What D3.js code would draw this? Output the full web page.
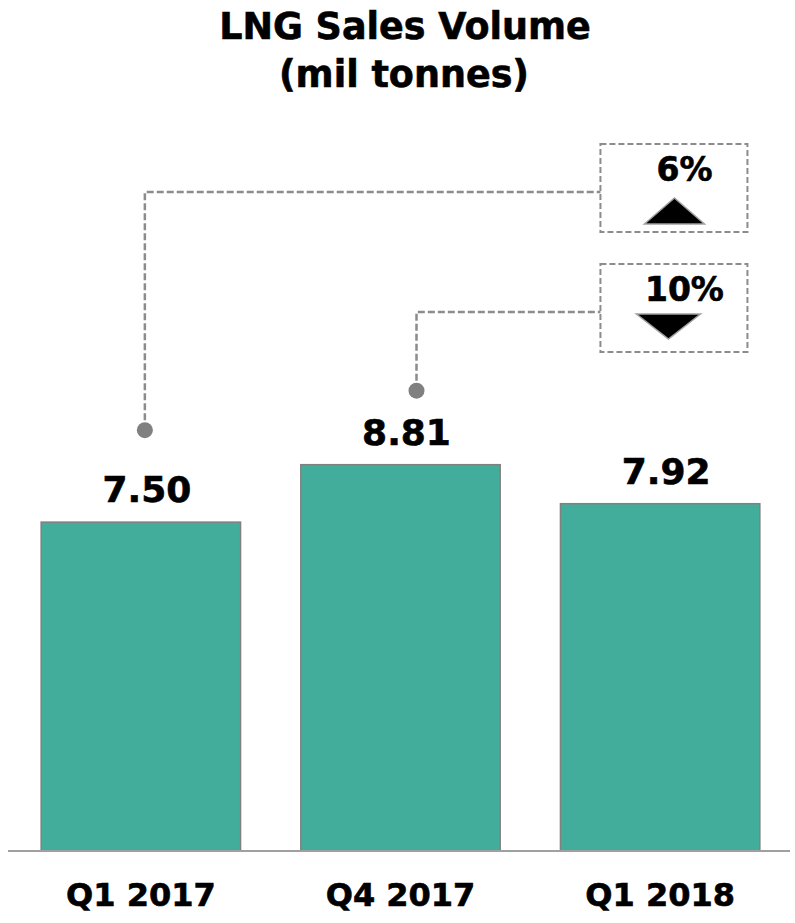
<!DOCTYPE html>
<html lang="en">
<head>
    <meta charset="UTF-8">
    <title>LNG Sales Volume</title>
    <script src="https://d3js.org/d3.v7.min.js"></script>
    <style>
        body {
            margin: 0;
            padding: 0;
            background-color: #fff;
            font-family: 'DejaVu Sans', Verdana, sans-serif;
        }

        text {
            font-weight: bold;
            fill: #000;
            stroke: #000;
            stroke-width: 0.6px;
        }
    </style>
</head>
<body>
    <div id="chart"></div>

    <script>
        // chart data
        const categories = ["Q1 2017", "Q4 2017", "Q1 2018"];
        const values = [7.50, 8.81, 7.92];
        const valueLabels = ["7.50", "8.81", "7.92"];

        // change annotations: from which bar to the last one
        const changeFrom = [0, 1];
        const changeLabels = ["6%", "10%"];
        const changeDirs = ["up", "down"];

        const width = 795;
        const height = 923;
        const baseline = 851;

        const svg = d3.select("#chart").append("svg")
            .attr("width", width)
            .attr("height", height);

        const xScale = d3.scaleBand()
            .domain(categories)
            .range([10, 791])
            .paddingInner(0.232)
            .paddingOuter(0.12);

        const yScale = d3.scaleLinear()
            .domain([0, 10])
            .range([baseline, baseline - 438.5]);

        // title
        svg.append("text")
            .attr("x", 405)
            .attr("y", 39)
            .attr("text-anchor", "middle")
            .style("font-size", "36.5px")
            .text("LNG Sales Volume");

        svg.append("text")
            .attr("x", 404)
            .attr("y", 87)
            .attr("text-anchor", "middle")
            .style("font-size", "36.5px")
            .text("(mil tonnes)");

        // bars
        svg.selectAll(".bar")
            .data(values)
            .enter()
            .append("rect")
            .attr("class", "bar")
            .attr("x", (d, i) => xScale(categories[i]))
            .attr("y", d => yScale(d))
            .attr("width", xScale.bandwidth())
            .attr("height", d => baseline - yScale(d))
            .attr("fill", "#43ad9b")
            .attr("stroke", "#808080")
            .attr("stroke-width", 1.5);

        // value labels (sit a little right of bar centre, as in the original)
        svg.selectAll(".val")
            .data(values)
            .enter()
            .append("text")
            .attr("class", "val")
            .attr("x", (d, i) => xScale(categories[i]) + xScale.bandwidth() / 2 + 6)
            .attr("y", d => yScale(d) - 20)
            .attr("text-anchor", "middle")
            .style("font-size", "36px")
            .text((d, i) => valueLabels[i]);

        // x axis
        const xAxis = svg.append("g")
            .attr("transform", "translate(0," + baseline + ")")
            .call(d3.axisBottom(xScale).tickSize(0).tickPadding(32));
        xAxis.select(".domain")
            .attr("d", "M8,0H790")
            .attr("stroke", "#a0a0a0")
            .attr("stroke-width", 2);
        xAxis.selectAll("text")
            .attr("dy", "0.71em")
            .style("font-family", "'DejaVu Sans', Verdana, sans-serif")
            .style("font-size", "32px")
            .style("font-weight", "bold")
            .attr("fill", "#000");

        // annotations
        const lastCat = categories[categories.length - 1];
        const boxX = xScale(lastCat) + 40;
        const boxW = 147;
        const boxTops = [144, 264];
        const boxH = 88;
        const dotDx = [4, 16];
        const dotRise = [92, 74];

        changeFrom.forEach((fi, k) => {
            const cx = xScale(categories[fi]) + xScale.bandwidth() / 2 + dotDx[k];
            const cy = yScale(values[fi]) - dotRise[k];
            const ly = boxTops[k] + 48;

            svg.append("path")
                .attr("d", `M${cx},${cy}V${ly}H${boxX}`)
                .attr("fill", "none")
                .attr("stroke", "#8c8c8c")
                .attr("stroke-width", 2.5)
                .attr("stroke-dasharray", "7,3");

            svg.append("circle")
                .attr("cx", cx)
                .attr("cy", cy)
                .attr("r", 8)
                .attr("fill", "#808080");

            svg.append("rect")
                .attr("x", boxX)
                .attr("y", boxTops[k])
                .attr("width", boxW)
                .attr("height", boxH)
                .attr("fill", "none")
                .attr("stroke", "#8c8c8c")
                .attr("stroke-width", 2)
                .attr("stroke-dasharray", "6,3");

            const tx = boxX + 84;
            svg.append("text")
                .attr("x", tx)
                .attr("y", boxTops[k] + 37)
                .attr("text-anchor", "middle")
                .style("font-size", "33px")
                .text(changeLabels[k]);

            const triCx = boxX + (changeDirs[k] === "up" ? 74 : 68);
            const tri = changeDirs[k] === "up"
                ? [[triCx - 30, boxTops[k] + 80], [triCx, boxTops[k] + 54], [triCx + 30, boxTops[k] + 80]]
                : [[triCx - 32, boxTops[k] + 50], [triCx + 32, boxTops[k] + 50], [triCx, boxTops[k] + 75]];
            svg.append("path")
                .attr("d", d3.line()(tri) + "Z")
                .attr("fill", "#000")
                .attr("stroke", "#a0a0a0")
                .attr("stroke-width", 1.5);
        });
    </script>
</body>
</html>
